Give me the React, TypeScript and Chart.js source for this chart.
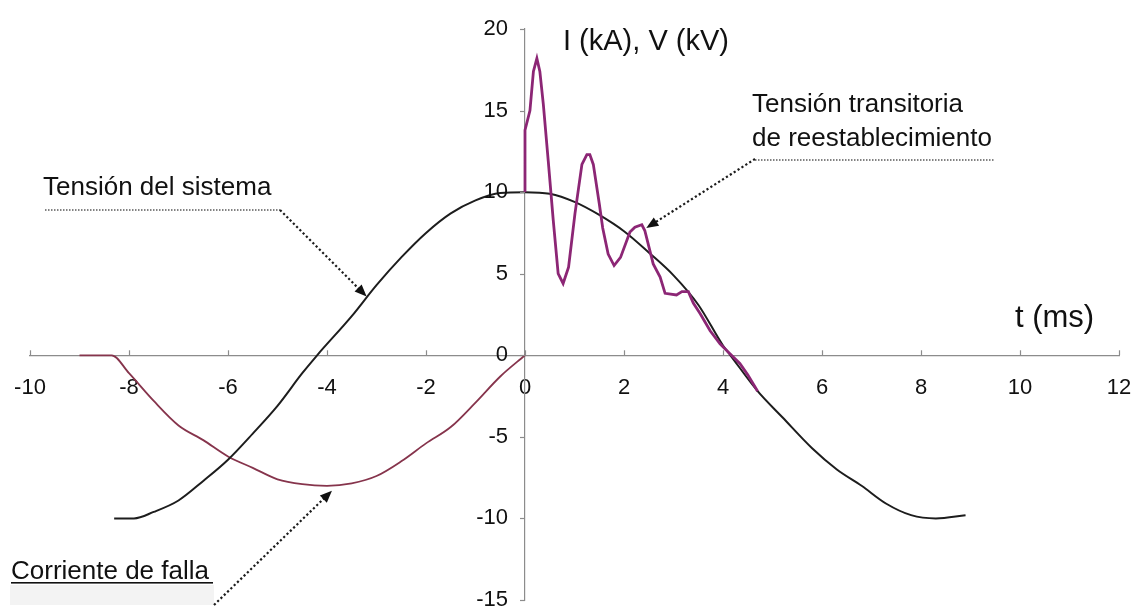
import { useEffect, useRef } from "react";
import { Chart, registerables } from "chart.js";

Chart.register(...registerables);

// Tensión del sistema (kV) vs t (ms)
const tSistema = [-8.3, -7.9, -7.5, -7.0, -6.5, -6.0, -5.5, -5.0, -4.5, -4.2, -3.5, -3.0, -2.5, -2.0, -1.5, -1.0, -0.5, 0.0, 0.5, 1.0, 1.5, 2.0, 2.5, 3.0, 3.5, 4.0, 4.15, 4.7, 5.2, 5.8, 6.3, 6.8, 7.3, 7.8, 8.3, 8.9];
const vSistema = [-10.0, -10.0, -9.6, -8.9, -7.7, -6.4, -4.8, -3.1, -1.1, 0.0, 2.4, 4.3, 6.0, 7.5, 8.7, 9.5, 9.95, 10.0, 9.9, 9.4, 8.6, 7.6, 6.3, 4.9, 3.1, 0.6, 0.0, -2.2, -3.8, -5.7, -7.0, -8.0, -9.1, -9.8, -10.0, -9.8];

// Corriente de falla (kA)
const tFalla = [-9.0, -8.35, -8.0, -7.5, -7.0, -6.5, -6.0, -5.5, -5.0, -4.5, -4.0, -3.5, -3.0, -2.5, -2.0, -1.5, -1.0, -0.5, 0.0];
const iFalla = [0, 0, -1.1, -2.8, -4.3, -5.2, -6.2, -6.9, -7.6, -7.9, -8.0, -7.85, -7.4, -6.5, -5.4, -4.4, -2.9, -1.3, 0];

// Tensión transitoria de reestablecimiento (kV)
const tTRV = [0.0, 0.0, 0.1, 0.17, 0.24, 0.3, 0.37, 0.47, 0.57, 0.67, 0.77, 0.88, 1.01, 1.15, 1.25, 1.31, 1.38, 1.5, 1.57, 1.68, 1.8, 1.93, 2.12, 2.22, 2.36, 2.42, 2.59, 2.73, 2.83, 3.06, 3.17, 3.3, 3.4, 3.54, 3.74, 3.94, 4.14, 4.34, 4.5, 4.7];
const vTRV = [10.0, 13.8, 15.0, 17.4, 18.2, 17.4, 15.4, 11.9, 8.3, 5.0, 4.4, 5.4, 8.7, 11.7, 12.3, 12.3, 11.7, 9.3, 7.8, 6.2, 5.5, 6.0, 7.55, 7.85, 8.0, 7.65, 5.6, 4.8, 3.8, 3.7, 3.9, 3.9, 3.2, 2.55, 1.5, 0.7, 0.1, -0.5, -1.2, -2.2];

// Axis ticks
const xTicks = [-10, -8, -6, -4, -2, 0, 2, 4, 6, 8, 10, 12];
const yTicks = [-15, -10, -5, 0, 5, 10, 15, 20];

const FONT = '"Liberation Sans", Arial, Helvetica, sans-serif';
const AXIS = "#8c8c8c";
const TEXT = "#111111";
const TICK_FONT_SIZE = 22;

const toPoints = (xs: number[], ys: number[]) => xs.map((x, i) => ({ x, y: ys[i] }));

function dottedArrow(
  ctx: CanvasRenderingContext2D,
  fromX: number,
  fromY: number,
  toX: number,
  toY: number
) {
  const ang = Math.atan2(toY - fromY, toX - fromX);
  const head = 12;
  const half = 5;
  const c = Math.cos(ang);
  const s = Math.sin(ang);
  ctx.save();
  ctx.strokeStyle = "#1c1c1c";
  ctx.lineWidth = 2.2;
  ctx.setLineDash([2.2, 2.4]);
  ctx.beginPath();
  ctx.moveTo(fromX, fromY);
  ctx.lineTo(toX - c * head * 0.8, toY - s * head * 0.8);
  ctx.stroke();
  ctx.setLineDash([]);
  ctx.fillStyle = "#111";
  ctx.beginPath();
  ctx.moveTo(toX, toY);
  ctx.lineTo(toX - c * head + s * half, toY - s * head - c * half);
  ctx.lineTo(toX - c * head - s * half, toY - s * head + c * half);
  ctx.closePath();
  ctx.fill();
  ctx.restore();
}

function dottedRule(ctx: CanvasRenderingContext2D, x1: number, x2: number, y: number) {
  ctx.save();
  ctx.strokeStyle = "#5a5a5a";
  ctx.lineWidth = 1.3;
  ctx.setLineDash([1.5, 1.5]);
  ctx.beginPath();
  ctx.moveTo(x1, y);
  ctx.lineTo(x2, y);
  ctx.stroke();
  ctx.restore();
}

const decorations = {
  id: "decorations",
  afterDraw(chart: any) {
    const { ctx } = chart;
    const xs = chart.scales.x;
    const ys = chart.scales.y;
    const px = (t: number) => xs.getPixelForValue(t);
    const py = (v: number) => ys.getPixelForValue(v);
    ctx.save();

    // tick marks: upward on the time axis, leftward on the value axis
    ctx.strokeStyle = AXIS;
    ctx.lineWidth = 1.2;
    const y0 = py(0);
    const x0 = px(0);
    for (const t of xTicks) {
      const xp = Math.round(px(t)) + 0.5;
      ctx.beginPath();
      ctx.moveTo(xp, y0);
      ctx.lineTo(xp, y0 - 5);
      ctx.stroke();
    }
    for (const v of yTicks) {
      const yp = Math.round(py(v)) + 0.5;
      ctx.beginPath();
      ctx.moveTo(x0, yp);
      ctx.lineTo(x0 - 5, yp);
      ctx.stroke();
    }

    // value axis labels, set back from the axis line
    ctx.fillStyle = TEXT;
    ctx.font = `${TICK_FONT_SIZE}px ${FONT}`;
    ctx.textAlign = "right";
    ctx.textBaseline = "middle";
    for (const tick of ys.ticks) {
      ctx.fillText(String(tick.value), x0 - 17, py(tick.value));
    }

    // axis titles
    ctx.textBaseline = "alphabetic";
    ctx.textAlign = "left";
    ctx.font = `29px ${FONT}`;
    ctx.fillText("I (kA), V (kV)", 563, 50);
    ctx.font = `31px ${FONT}`;
    ctx.fillText("t (ms)", 1015, 327);

    // annotations
    ctx.font = `26px ${FONT}`;
    ctx.fillText("Tensión del sistema", 43, 195);
    dottedRule(ctx, 45, 280, 210);
    dottedArrow(ctx, 280, 210, px(-3.2), py(3.6));

    ctx.fillText("Tensión transitoria", 752, 112);
    ctx.fillText("de reestablecimiento", 752, 146);
    dottedRule(ctx, 755, 995, 160);
    dottedArrow(ctx, 755, 159, px(2.45), py(7.8));

    ctx.fillStyle = "#f3f3f3";
    ctx.fillRect(10, 585, 204, 20);
    ctx.fillStyle = TEXT;
    ctx.fillText("Corriente de falla", 11, 579);
    ctx.fillRect(11, 582, 202, 1.6);
    dottedArrow(ctx, 214, 605, px(-3.9), py(-8.3));

    ctx.restore();
  },
};

export default function App() {
  const ref = useRef<HTMLCanvasElement>(null);

  useEffect(() => {
    document.body.style.overflow = "hidden";
    const chart = new Chart(ref.current as HTMLCanvasElement, {
      type: "line",
      data: {
        datasets: [
          {
            label: "Tensión transitoria de reestablecimiento",
            data: toPoints(tTRV, vTRV),
            borderColor: "#8c2675",
            borderWidth: 2.8,
            pointRadius: 0,
            tension: 0,
            fill: false,
          },
          {
            label: "Tensión del sistema",
            data: toPoints(tSistema, vSistema),
            borderColor: "#1d1d1d",
            borderWidth: 2,
            pointRadius: 0,
            cubicInterpolationMode: "monotone",
            fill: false,
          },
          {
            label: "Corriente de falla",
            data: toPoints(tFalla, iFalla),
            borderColor: "#86344c",
            borderWidth: 1.8,
            pointRadius: 0,
            cubicInterpolationMode: "monotone",
            fill: false,
          },
        ],
      },
      options: {
        responsive: false,
        animation: false,
        layout: { padding: { left: 30, right: 16, top: 29, bottom: 15 } },
        plugins: {
          legend: { display: false },
          tooltip: { enabled: false },
        },
        scales: {
          x: {
            type: "linear",
            position: { y: 0 } as any,
            min: xTicks[0],
            max: xTicks[xTicks.length - 1],
            ticks: {
              stepSize: 2,
              padding: 0,
              color: TEXT,
              font: { family: FONT, size: TICK_FONT_SIZE },
              maxRotation: 0,
            },
            grid: { drawOnChartArea: false, drawTicks: true, tickLength: 19, color: "rgba(0,0,0,0)" },
            border: { color: AXIS, width: 1.2 },
          },
          y: {
            type: "linear",
            position: { x: 0 } as any,
            min: yTicks[0],
            max: yTicks[yTicks.length - 1],
            ticks: {
              stepSize: 5,
              padding: 0,
              color: "rgba(0,0,0,0)",
              font: { family: FONT, size: TICK_FONT_SIZE },
            },
            grid: { drawOnChartArea: false, drawTicks: false },
            border: { color: AXIS, width: 1.2 },
          },
        },
      },
      plugins: [decorations],
    });
    return () => chart.destroy();
  }, []);

  return (
    <div style={{ position: "fixed", left: 0, top: 0, width: 1135, height: 615, background: "#ffffff" }}>
      <canvas ref={ref} width={1135} height={615} style={{ display: "block" }} />
    </div>
  );
}
